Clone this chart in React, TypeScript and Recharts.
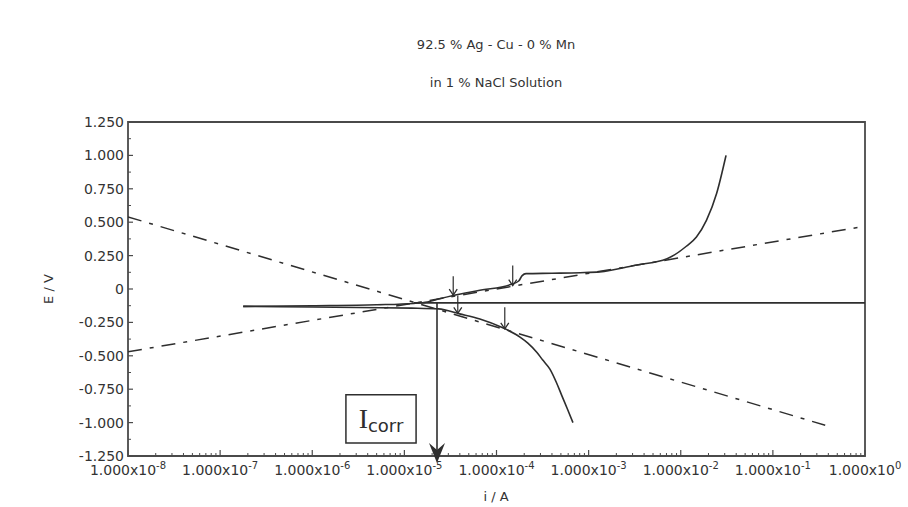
import React from "react";
import {
  LineChart,
  Line,
  XAxis,
  YAxis,
  ReferenceArea,
  ReferenceLine,
  ReferenceDot,
} from "recharts";

const cathodicI = [1.78e-7, 1e-6, 5.5e-6, 1.2e-5, 2.34e-5, 3.98e-5, 6.6e-5, 1.17e-4, 1.8e-4, 2.19e-4, 2.75e-4, 3.16e-4, 3.8e-4, 4.47e-4, 5.13e-4, 5.9e-4, 6.76e-4];
const cathodicE = [-0.13, -0.135, -0.14, -0.143, -0.149, -0.186, -0.224, -0.29, -0.36, -0.405, -0.475, -0.53, -0.6, -0.7, -0.8, -0.9, -1.0];

const anodicI = [1.78e-7, 1e-6, 5e-6, 1.26e-5, 1.78e-5, 2.34e-5, 3.39e-5, 6.6e-5, 1.45e-4, 1.74e-4, 1.9e-4, 2.09e-4, 4e-4, 8.1e-4, 1.32e-3, 3.1e-3, 7.1e-3, 1.15e-2, 1.48e-2, 1.9e-2, 2.45e-2, 3.1e-2];
const anodicE = [-0.13, -0.125, -0.118, -0.108, -0.097, -0.075, -0.048, -0.01, 0.035, 0.06, 0.1, 0.115, 0.118, 0.122, 0.128, 0.176, 0.227, 0.32, 0.39, 0.514, 0.715, 1.0];

// Tafel extrapolations
const cathodicTafelI = [1e-8, 0.37];
const cathodicTafelE = [0.54, -1.02];
const anodicTafelI = [1e-8, 1];
const anodicTafelE = [-0.47, 0.47];

// Ecorr line and Icorr
const ecorrI = [1.26e-5, 1];
const ecorrE = [-0.104, -0.104];
const icorr = 2.26e-5;
const ecorr = -0.104;

// little arrows marking the fit region
const markerI = [3.39e-5, 3.8e-5, 1.5e-4, 1.23e-4];
const markerTop = [0.095, -0.049, 0.176, -0.137];
const markerBottom = [-0.046, -0.182, 0.026, -0.299];

// Icorr label box
const boxI = [2.32e-6, 1.34e-5];
const boxE = [-1.152, -0.792];

// axes
const xDecades = [1e-8, 1e-7, 1e-6, 1e-5, 1e-4, 1e-3, 1e-2, 1e-1, 1];
const xExponents = ["-8", "-7", "-6", "-5", "-4", "-3", "-2", "-1", "0"];
const xMinor = xDecades.slice(0, -1).flatMap((d) => [2, 3, 4, 5, 6, 7, 8, 9].map((k) => d * k));
const xTicks = [...xDecades, ...xMinor].sort((a, b) => a - b);

const yMajor = [-1.25, -1, -0.75, -0.5, -0.25, 0, 0.25, 0.5, 0.75, 1, 1.25];
const yLabels = ["-1.250", "-1.000", "-0.750", "-0.500", "-0.250", "0", "0.250", "0.500", "0.750", "1.000", "1.250"];
const yMinor = [-1.125, -0.875, -0.625, -0.375, -0.125, 0.125, 0.375, 0.625, 0.875, 1.125];
const yTicks = [...yMajor, ...yMinor].sort((a, b) => a - b);

const toRows = (xs: number[], ys: number[]) => xs.map((i, k) => ({ i, e: ys[k] }));

const ink = "#2e2e2e";
const axisInk = "#4a4a4a";
const font = "DejaVu Sans, Verdana, sans-serif";
const dash = "14 8 4 8";

const XTick = (props: any) => {
  const { x, y, payload } = props;
  const idx = xDecades.indexOf(payload.value);
  if (idx < 0) {
    return <line x1={x} x2={x} y1={y} y2={y - 3} stroke={axisInk} strokeWidth={1} />;
  }
  return (
    <g>
      <line x1={x} x2={x} y1={y} y2={y - 6} stroke={axisInk} strokeWidth={1.2} />
      <text x={x} y={y + 19} textAnchor="middle" fontSize={14} fontFamily={font} fill="#333">
        1.000x10
        <tspan dy={-6} fontSize={10}>
          {xExponents[idx]}
        </tspan>
      </text>
    </g>
  );
};

const YTick = (props: any) => {
  const { x, y, payload } = props;
  const idx = yMajor.indexOf(payload.value);
  if (idx < 0) {
    return <line x1={x} x2={x + 3} y1={y} y2={y} stroke={axisInk} strokeWidth={1} />;
  }
  return (
    <g>
      <line x1={x} x2={x + 5} y1={y} y2={y} stroke={axisInk} strokeWidth={1.2} />
      <text x={x - 4} y={y} dy="0.35em" textAnchor="end" fontSize={14} fontFamily={font} fill="#333">
        {yLabels[idx]}
      </text>
    </g>
  );
};

const BigArrowHead = (p: any) => (
  <path
    d={`M${p.cx},${p.cy + 7} L${p.cx - 8},${p.cy - 13} L${p.cx},${p.cy - 6} L${p.cx + 8},${p.cy - 13} Z`}
    fill={ink}
  />
);

const SmallArrowHead = (p: any) => (
  <path
    d={`M${p.cx - 4},${p.cy - 6} L${p.cx},${p.cy} L${p.cx + 4},${p.cy - 6}`}
    fill="none"
    stroke={ink}
    strokeWidth={1.3}
  />
);

const IcorrLabel = (props: any) => {
  const { x, y, width, height } = props.viewBox;
  return (
    <text
      x={x + width / 2}
      y={y + height / 2 + 9}
      textAnchor="middle"
      fontFamily="Liberation Serif, DejaVu Serif, serif"
      fill={ink}
    >
      <tspan fontSize={28}>I</tspan>
      <tspan fontSize={18} dy={4} fontFamily={font}>
        corr
      </tspan>
    </text>
  );
};

const App: React.FC = () => {
  const cathodic = toRows(cathodicI, cathodicE);
  const anodic = toRows(anodicI, anodicE);
  const cathodicTafel = toRows(cathodicTafelI, cathodicTafelE);
  const anodicTafel = toRows(anodicTafelI, anodicTafelE);
  const ecorrLine = toRows(ecorrI, ecorrE);
  const icorrLine = [
    { i: icorr, e: ecorr },
    { i: icorr, e: -1.25 },
  ];

  return (
    <div
      style={{
        position: "absolute",
        left: 0,
        top: 0,
        width: 908,
        height: 507,
        background: "#fff",
        fontFamily: font,
        color: "#333",
      }}
    >
      <div style={{ position: "absolute", left: 0, width: 992, top: 37, lineHeight: "16px", fontSize: 13, textAlign: "center" }}>
        92.5 % Ag - Cu - 0 % Mn
      </div>
      <div style={{ position: "absolute", left: 0, width: 992, top: 75, lineHeight: "16px", fontSize: 13, textAlign: "center" }}>
        in 1 % NaCl Solution
      </div>
      <div
        style={{
          position: "absolute",
          left: 48,
          top: 289,
          fontSize: 13,
          whiteSpace: "nowrap",
          transform: "translate(-50%, -50%) rotate(-90deg)",
        }}
      >
        E / V
      </div>
      <div style={{ position: "absolute", left: 0, width: 992, top: 489, lineHeight: "16px", fontSize: 13, textAlign: "center" }}>
        i / A
      </div>

      <LineChart width={908} height={507} margin={{ top: 122, right: 43, bottom: 11, left: 68 }}>
        <XAxis
          dataKey="i"
          type="number"
          scale="log"
          domain={[1e-8, 1]}
          ticks={xTicks}
          interval={0}
          allowDataOverflow
          axisLine={false}
          tickLine={false}
          tickSize={0}
          tickMargin={0}
          tick={<XTick />}
          height={40}
        />
        <YAxis
          dataKey="e"
          type="number"
          domain={[-1.25, 1.25]}
          ticks={yTicks}
          interval={0}
          allowDataOverflow
          axisLine={false}
          tickLine={false}
          tickSize={0}
          tickMargin={0}
          tick={<YTick />}
          width={60}
        />

        <ReferenceArea x1={1e-8} x2={1} y1={-1.25} y2={1.25} fill="none" stroke={axisInk} strokeWidth={1.8} />

        <Line data={cathodicTafel} dataKey="e" type="linear" stroke={ink} strokeWidth={1.5} strokeDasharray={dash} dot={false} isAnimationActive={false} />
        <Line data={anodicTafel} dataKey="e" type="linear" stroke={ink} strokeWidth={1.5} strokeDasharray={dash} dot={false} isAnimationActive={false} />
        <Line data={ecorrLine} dataKey="e" type="linear" stroke={ink} strokeWidth={1.6} dot={false} isAnimationActive={false} />
        <Line data={cathodic} dataKey="e" type="monotone" stroke={ink} strokeWidth={1.6} dot={false} isAnimationActive={false} />
        <Line data={anodic} dataKey="e" type="monotone" stroke={ink} strokeWidth={1.6} dot={false} isAnimationActive={false} />
        <Line data={icorrLine} dataKey="e" type="linear" stroke={ink} strokeWidth={1.6} dot={false} isAnimationActive={false} />

        {markerI.map((i, k) => (
          <ReferenceLine
            key={`ml${k}`}
            segment={[
              { x: i, y: markerTop[k] },
              { x: i, y: markerBottom[k] },
            ]}
            stroke={ink}
            strokeWidth={1.2}
          />
        ))}
        {markerI.map((i, k) => (
          <ReferenceDot key={`md${k}`} x={i} y={markerBottom[k]} r={4} shape={<SmallArrowHead />} />
        ))}

        <ReferenceDot x={icorr} y={-1.25} r={8} shape={<BigArrowHead />} />

        <ReferenceArea
          x1={boxI[0]}
          x2={boxI[1]}
          y1={boxE[0]}
          y2={boxE[1]}
          fill="none"
          stroke={ink}
          strokeWidth={1.5}
          label={IcorrLabel}
        />
      </LineChart>
    </div>
  );
};

export default App;
